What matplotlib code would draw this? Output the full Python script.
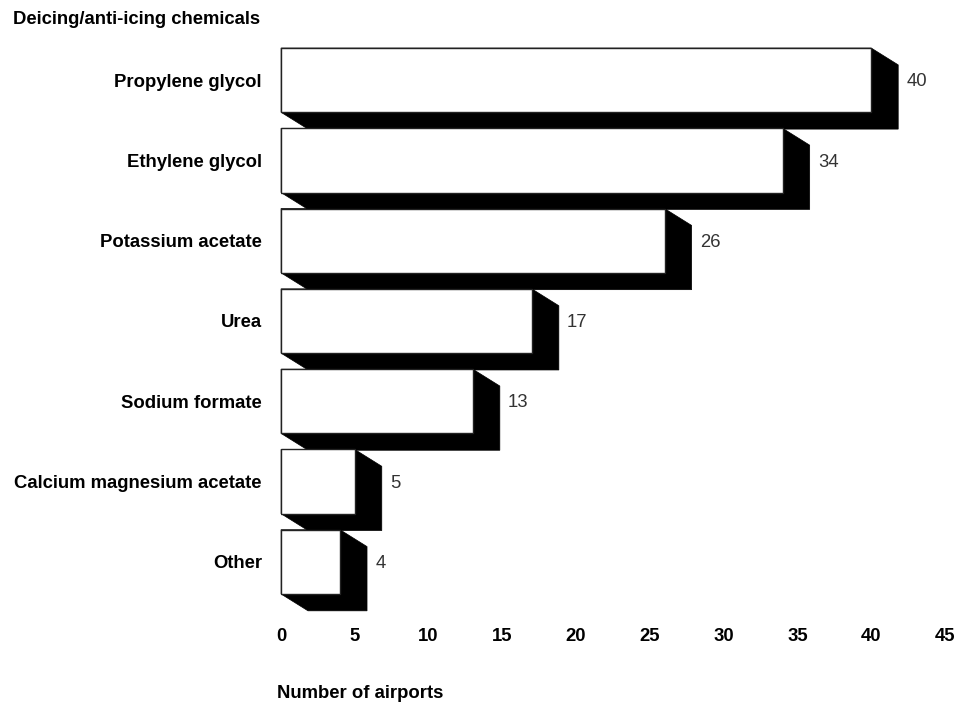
import matplotlib.pyplot as plt
from matplotlib.patches import Polygon

plt.rcParams['font.family'] = ['Liberation Sans', 'DejaVu Sans']

categories = ['Propylene glycol', 'Ethylene glycol', 'Potassium acetate', 'Urea',
              'Sodium formate', 'Calcium magnesium acetate', 'Other']
airports = [40, 34, 26, 17, 13, 5, 4]
xticks = [0, 5, 10, 15, 20, 25, 30, 35, 40, 45]

fig = plt.figure(figsize=(9.73, 7.04), dpi=100)
ax = fig.add_axes([0.2888, 0.1449, 0.6824, 0.7983])

pos = list(range(len(categories)))
h = 0.8
dx = 1.83   # depth of the 3D extrusion (data units)
dy = 0.21

ax.barh(pos, airports, height=h, color='white', edgecolor='#222222', linewidth=1.0, zorder=3)

# black extrusion behind each bar
for y, v in zip(pos, airports):
    top = y - h / 2
    bot = y + h / 2
    pts = [(0, top), (v, top), (v + dx, top + dy), (v + dx, bot + dy),
           (dx, bot + dy), (0, bot)]
    ax.add_patch(Polygon(pts, closed=True, facecolor='black', edgecolor='black',
                         linewidth=0.5, zorder=2, clip_on=False))
    ax.text(v + dx + 0.55, y + 0.02, str(v), va='center', ha='left', fontsize=13.3,
            color='#333333')

ax.set_xlim(0, 45)
ax.set_ylim(len(categories) - 0.5, -0.5)
ax.set_xticks(xticks)
ax.set_xticklabels([str(t) for t in xticks], fontweight='bold', fontsize=13.3)
ax.set_yticks(pos)
ax.set_yticklabels(categories, fontweight='bold', fontsize=13.3)
ax.tick_params(axis='both', length=0)
ax.tick_params(axis='x', pad=19)
ax.tick_params(axis='y', pad=13.7)
for s in ax.spines.values():
    s.set_visible(False)

fig.text(13 / 973, 1 - 19 / 704, 'Deicing/anti-icing chemicals', fontweight='bold',
         fontsize=13.3, va='center', ha='left')
fig.text(277 / 973, 1 - 694 / 704, 'Number of airports', fontweight='bold',
         fontsize=13.3, va='center', ha='left')

fig.savefig('out.png', dpi=100)
